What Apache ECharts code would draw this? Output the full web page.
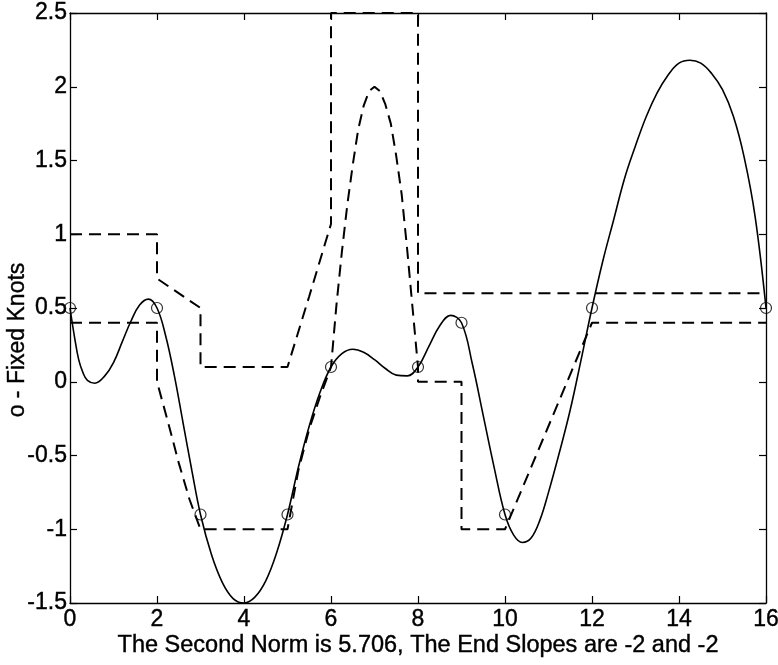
<!DOCTYPE html>
<html><head><meta charset="utf-8">
<script src="https://cdn.jsdelivr.net/npm/echarts/dist/echarts.min.js"></script>
<style>html,body{margin:0;padding:0;background:#fff}#c{width:778px;height:665px}</style>
</head><body><div id="c"></div>
<script>
// ---- data ----
const xTitle = 'The Second Norm is 5.706, The End Slopes are -2 and -2';
const yTitle = 'o - Fixed Knots';

// solid interpolating spline
const splineX = [0,0.1,0.2,0.3,0.4,0.57,0.8,1.0,1.2,1.4,1.6,1.8,2.0,2.2,2.4,2.6,2.8,3.0,3.25,3.5,3.75,4.0,4.25,4.5,4.75,5.0,5.25,5.5,5.75,6.0,6.25,6.5,6.75,7.0,7.25,7.5,7.75,8.0,8.25,8.5,8.75,9.0,9.25,9.5,9.75,10.0,10.2,10.4,10.6,10.8,11.0,11.25,11.5,11.75,12.0,12.25,12.5,12.75,13.0,13.25,13.5,13.75,14.0,14.25,14.5,14.75,15.0,15.25,15.5,15.75,16.0];
const splineY = [0.5,0.31,0.15,0.06,0.01,-0.01,0.04,0.13,0.27,0.41,0.52,0.56,0.5,0.31,0.04,-0.28,-0.6,-0.9,-1.17,-1.36,-1.47,-1.5,-1.46,-1.35,-1.16,-0.9,-0.58,-0.3,-0.07,0.1,0.19,0.22,0.2,0.15,0.09,0.045,0.04,0.1,0.24,0.38,0.45,0.4,0.12,-0.23,-0.58,-0.9,-1.04,-1.09,-1.06,-0.94,-0.75,-0.48,-0.19,0.15,0.5,0.82,1.1,1.38,1.6,1.8,1.96,2.08,2.16,2.18,2.16,2.09,1.98,1.8,1.52,1.12,0.5];

// fixed knots (circles)
const knotX = [0,2,3,5,6,8,9,10,12,16];
const knotY = [0.5,0.5,-0.9,-0.9,0.1,0.1,0.4,-0.9,0.5,0.5];

// upper dashed curve
const upperX = [0,2,2,3,3,5,5.5,6,6,8,8,16];
const upperY = [1,1,0.7,0.5,0.1,0.1,0.58,1.07,2.5,2.5,0.6,0.6];

// lower dashed curve
const lowerX = [0,2,2,2.25,2.5,2.75,3,5,5.25,5.5,5.75,6,6.125,6.25,6.375,6.5,6.625,6.75,6.875,7,7.125,7.25,7.375,7.5,7.625,7.75,7.875,8,8,9,9,10,12,16];
const lowerY = [0.4,0.4,0,-0.27,-0.55,-0.8,-1,-1,-0.6,-0.32,-0.1,0.1,0.52,0.88,1.2,1.47,1.71,1.87,1.97,2.0,1.97,1.88,1.75,1.53,1.27,0.9,0.5,0.1,0,0,-1,-1,0.4,0.4];

const zip = (xs, ys) => xs.map((x, i) => [x, ys[i]]);

const FONT = '"Liberation Sans", Arial, Helvetica, sans-serif';
const BLACK = '#000';
const txt = {color: BLACK, fontFamily: FONT, textBorderColor: BLACK, textBorderWidth: 0.4};
const axisLine = {show: true, onZero: false, lineStyle: {color: BLACK, width: 1.3}};
const axisTick = {show: true, inside: true, length: 7, lineStyle: {color: BLACK, width: 1.2}};

const chart = echarts.init(document.getElementById('c'), null, {renderer: 'canvas'});
chart.setOption({
  animation: false,
  backgroundColor: '#fff',
  grid: {left: 70, right: 12, top: 13, bottom: 62, containLabel: false, outerBoundsMode: 'none'},
  xAxis: [
    {type: 'value', position: 'bottom', min: 0, max: 16, interval: 2,
     axisLine, axisTick,
     axisLabel: Object.assign({fontSize: 23, margin: 5, showMinLabel: true, showMaxLabel: true}, txt),
     splitLine: {show: false},
     name: xTitle, nameLocation: 'middle', nameGap: 31, nameMoveOverlap: false,
     nameTextStyle: Object.assign({fontSize: 23.5}, txt)},
    {type: 'value', position: 'top', min: 0, max: 16, interval: 2,
     axisLine, axisTick, axisLabel: {show: false}, splitLine: {show: false}}
  ],
  yAxis: [
    {type: 'value', position: 'left', min: -1.5, max: 2.5, interval: 0.5,
     axisLine, axisTick,
     axisLabel: Object.assign({fontSize: 23, margin: 3, showMinLabel: true, showMaxLabel: true}, txt),
     splitLine: {show: false},
     name: yTitle, nameLocation: 'middle', nameGap: 41, nameRotate: 90, nameMoveOverlap: false,
     nameTextStyle: Object.assign({fontSize: 23, padding: [0, 64, 0, 0]}, txt)},
    {type: 'value', position: 'right', min: -1.5, max: 2.5, interval: 0.5,
     axisLine, axisTick, axisLabel: {show: false}, splitLine: {show: false}}
  ],
  series: [
    {type: 'line', name: 'upper', data: zip(upperX, upperY), showSymbol: false, smooth: false,
     lineStyle: {color: BLACK, width: 2, type: [12, 7]}},
    {type: 'line', name: 'lower', data: zip(lowerX, lowerY), showSymbol: false, smooth: false,
     lineStyle: {color: BLACK, width: 2, type: [12, 7]}},
    {type: 'line', name: 'spline', data: zip(splineX, splineY), showSymbol: false, smooth: 0.4,
     lineStyle: {color: BLACK, width: 1.6}},
    {type: 'scatter', name: 'knots', data: zip(knotX, knotY), symbol: 'circle', symbolSize: 11,
     itemStyle: {color: 'rgba(0,0,0,0)', borderColor: BLACK, borderWidth: 1.2}, z: 5}
  ]
});
</script>
</body></html>
